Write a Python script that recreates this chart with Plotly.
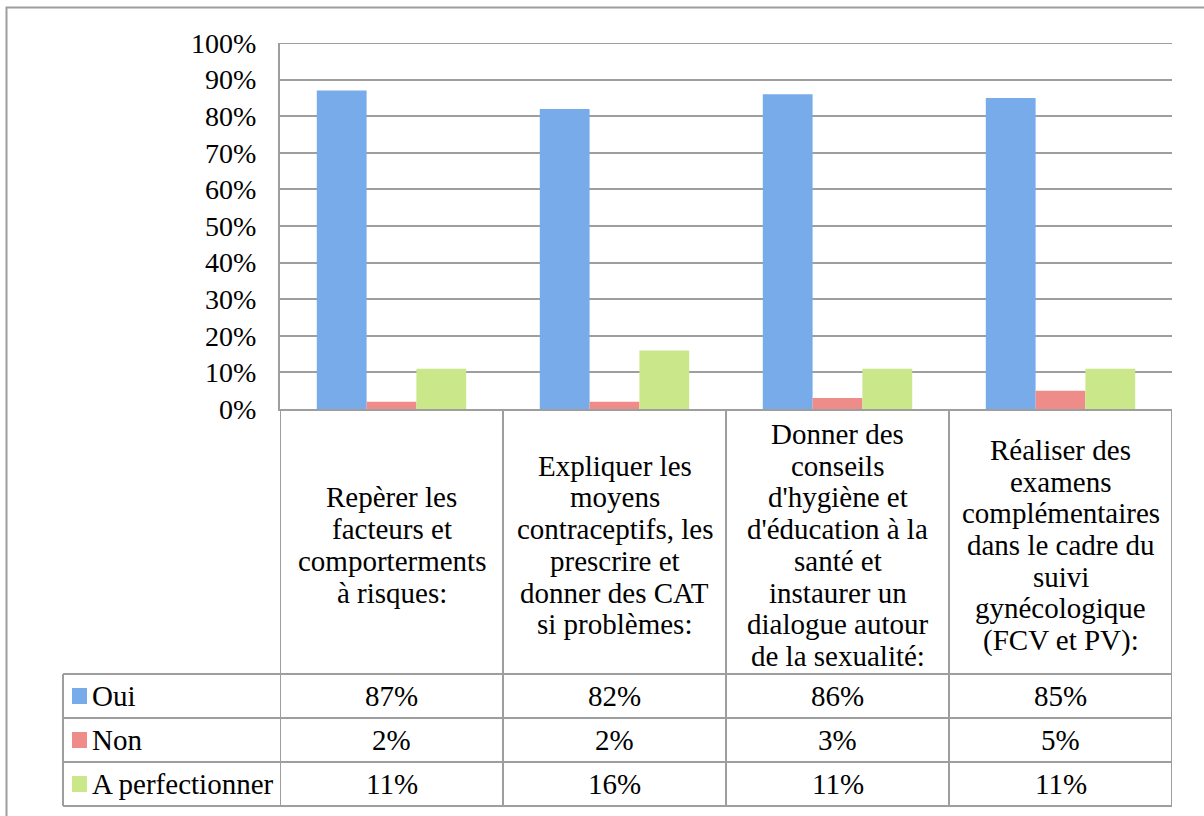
import plotly.graph_objects as go

# ---------------- data ----------------
categories = [
    "Repèrer les<br>facteurs et<br>comporterments<br>à risques:",
    "Expliquer les<br>moyens<br>contraceptifs, les<br>prescrire et<br>donner des CAT<br>si problèmes:",
    "Donner des<br>conseils<br>d'hygiène et<br>d'éducation à la<br>santé et<br>instaurer un<br>dialogue autour<br>de la sexualité:",
    "Réaliser des<br>examens<br>complémentaires<br>dans le cadre du<br>suivi<br>gynécologique<br>(FCV et PV):",
]
series_names = ["Oui", "Non", "A perfectionner"]
oui = [87, 82, 86, 85]
non = [2, 2, 3, 5]
a_perfectionner = [11, 16, 11, 11]
series_values = [oui, non, a_perfectionner]
y_ticks = [0, 10, 20, 30, 40, 50, 60, 70, 80, 90, 100]
y_tick_labels = [f"{v}%" for v in y_ticks]

# ---------------- styling ----------------
colors = ["#77ABE9", "#EE8C89", "#CAE78A"]
FONT = "Liberation Serif"
FS = 29
FS_TICK = 28
LINE = "#9E9E9E"

W, H = 1204, 816
L, R, T, B = 280, 32, 43, 407
PW = W - L - R
PH = H - T - B
y0px = H - B  # pixel of 0%


def px_x(px):
    return (px - L) / PW


def px_y(py):
    return (y0px - py) / PH


fig = go.Figure()
keys = list(range(len(categories)))
for name, vals, col in zip(series_names, series_values, colors):
    fig.add_trace(go.Bar(x=keys, y=vals, name=name, marker=dict(color=col, line=dict(width=0)),
                         showlegend=False, hoverinfo="skip"))

shapes = []
annotations = []

# outer chart border (extends past the right/bottom edges)
shapes.append(dict(type="rect", xref="paper", yref="paper",
                   x0=px_x(6.5), x1=px_x(W + 10), y0=px_y(H + 10), y1=px_y(7.5),
                   line=dict(color=LINE, width=2), fillcolor="rgba(0,0,0,0)", layer="below"))

# top gridline at 100%
shapes.append(dict(type="line", xref="paper", yref="y", x0=0, x1=1,
                   y0=y_ticks[-1], y1=y_ticks[-1], line=dict(color=LINE, width=2), layer="below"))

n = len(categories)
# table horizontal lines
for py in [674, 718, 762, 806]:
    shapes.append(dict(type="line", xref="paper", yref="paper",
                       x0=px_x(63), x1=1, y0=px_y(py), y1=px_y(py),
                       line=dict(color=LINE, width=2)))
# column boundaries
for i in range(n + 1):
    shapes.append(dict(type="line", xref="x", yref="paper",
                       x0=i - 0.5, x1=i - 0.5, y0=px_y(806), y1=px_y(409),
                       line=dict(color=LINE, width=2)))
# legend column left border
shapes.append(dict(type="line", xref="paper", yref="paper",
                   x0=px_x(63), x1=px_x(63), y0=px_y(806), y1=px_y(674),
                   line=dict(color=LINE, width=2)))

# category labels (header row of the table)
spacing = 31.7
center = 545
for i, cat in enumerate(categories):
    lines = cat.split("<br>")
    m = len(lines)
    for j, ln in enumerate(lines):
        cy = center + (j - (m - 1) / 2) * spacing
        annotations.append(dict(x=i, y=px_y(cy), xref="x", yref="paper", text=ln,
                                showarrow=False, xanchor="center", yanchor="middle",
                                font=dict(family=FONT, size=FS, color="black")))

# value rows
row_centers = [696, 740, 784]
for r, (name, vals, col) in enumerate(zip(series_names, series_values, colors)):
    cy = row_centers[r]
    for i, v in enumerate(vals):
        annotations.append(dict(x=i, y=px_y(cy), xref="x", yref="paper", text=f"{v}%",
                                showarrow=False, xanchor="center", yanchor="middle",
                                font=dict(family=FONT, size=FS, color="black")))
    annotations.append(dict(x=px_x(90), y=px_y(cy), xref="paper", yref="paper", text=name,
                            showarrow=False, xanchor="left", yanchor="middle",
                            font=dict(family=FONT, size=FS, color="black")))
    shapes.append(dict(type="rect", xref="paper", yref="paper",
                       x0=px_x(72), x1=px_x(87), y0=px_y(cy + 8), y1=px_y(cy - 8),
                       line=dict(width=0), fillcolor=col))

fig.update_layout(
    width=W, height=H,
    margin=dict(l=L, r=R, t=T, b=B),
    paper_bgcolor="white", plot_bgcolor="white",
    barmode="group", bargap=0.33, bargroupgap=0,
    shapes=shapes, annotations=annotations,
    font=dict(family=FONT, size=FS, color="black"),
    xaxis=dict(range=[-0.5, n - 0.5], showticklabels=False, showgrid=False,
               showline=True, linecolor=LINE, linewidth=2, zeroline=False, ticks=""),
    yaxis=dict(range=[0, 100], tickvals=y_ticks, ticktext=y_tick_labels, showgrid=True,
               gridcolor=LINE, gridwidth=2, showline=True, linecolor=LINE, linewidth=2,
               zeroline=False, ticks="", ticklabelstandoff=16,
               tickfont=dict(family=FONT, size=FS_TICK, color="black")),
)

fig.write_html("out.html", config={"displayModeBar": False},
               post_script="document.body.style.margin='0';")
